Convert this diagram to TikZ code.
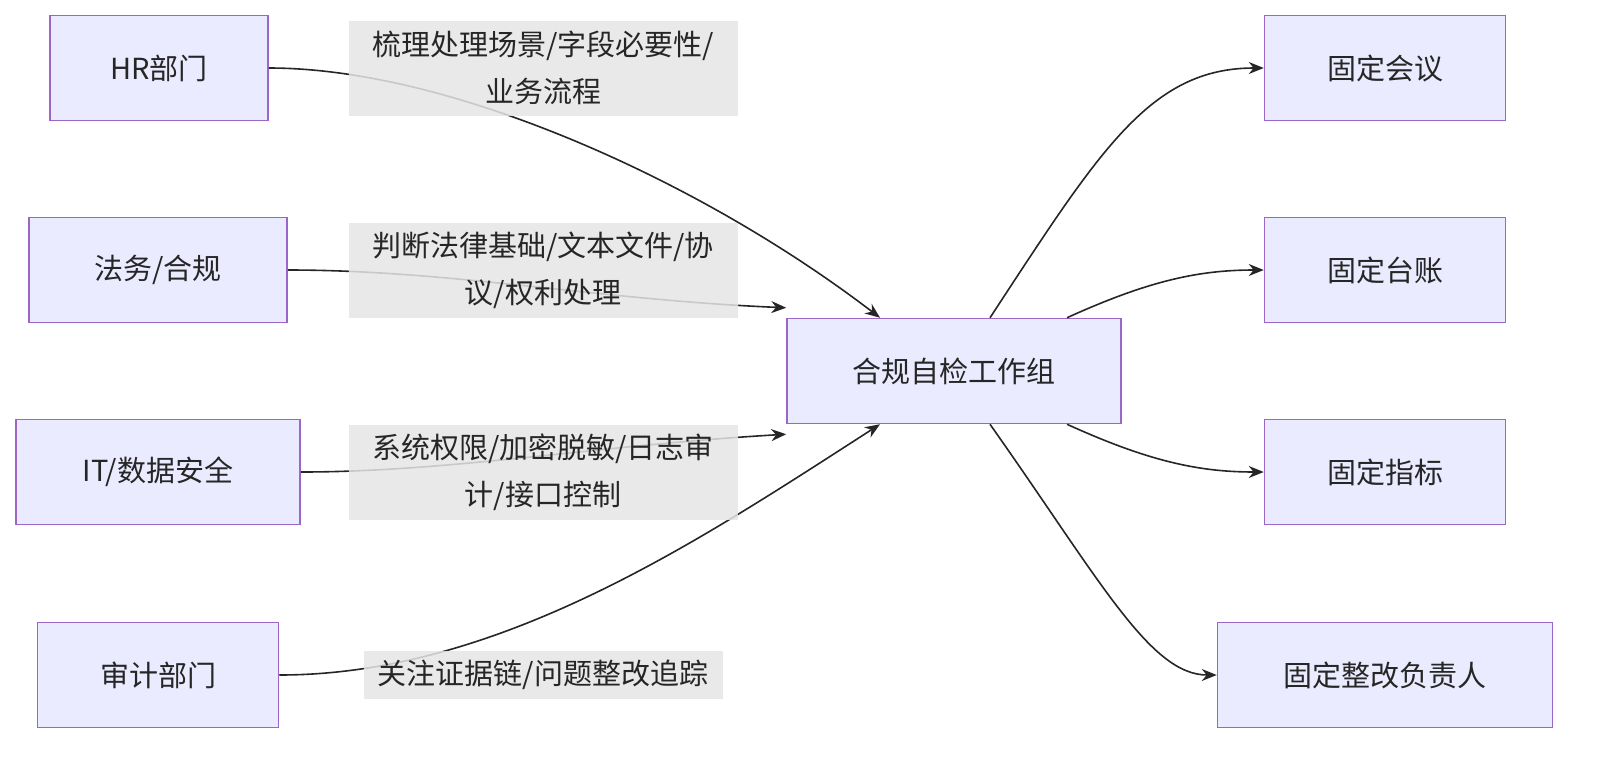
\documentclass[tikz,border=0pt]{standalone}
\usepackage{fontspec}
\setmainfont{Noto Sans CJK SC}
\usetikzlibrary{arrows.meta}
\begin{document}
\begin{tikzpicture}[x=1pt,y=-1pt,
 box/.style={draw=violet!70!blue!60, line width=1.5pt, fill=blue!8, minimum height=105pt, font=\fontsize{29}{36}\selectfont, text=black!85, inner sep=0pt},
 lbl/.style={fill=gray!20, fill opacity=0.85, text opacity=1, text=black!85, font=\fontsize{29}{47}\selectfont, align=center, inner sep=2pt},
 edge/.style={draw=black!85, line width=1.6pt, -{Stealth[length=15pt,width=12pt]}}]
\useasboundingbox (0,0) rectangle (1612,764);
\node[box,minimum width=218pt] (hr) at (159,68) {HR部门};
\node[box,minimum width=258pt] (lw) at (158,270) {法务/合规};
\node[box,minimum width=284pt] (it) at (158,472) {IT/数据安全};
\node[box,minimum width=241pt] (au) at (158,675) {审计部门};
\node[box,minimum width=334pt] (c) at (954,371) {合规自检工作组};
\node[box,minimum width=241pt] (m) at (1385,68) {固定会议};
\node[box,minimum width=241pt] (t) at (1385,270) {固定台账};
\node[box,minimum width=241pt] (z) at (1385,472) {固定指标};
\node[box,minimum width=335pt] (r) at (1385,675) {固定整改负责人};
\draw[edge] (hr.east) .. controls (450,68) and (700,180) .. ([xshift=-74]c.north);
\draw[edge] (lw.east) .. controls (450,270) and (600,300) .. ([yshift=10]c.north west);
\draw[edge] (it.east) .. controls (450,472) and (600,445) .. ([yshift=-10]c.south west);
\draw[edge] (au.east) .. controls (500,675) and (700,540) .. ([xshift=-74]c.south);
\draw[edge] ([xshift=36]c.north) .. controls (1100,150) and (1150,68) .. (m.west);
\draw[edge] ([xshift=113]c.north) .. controls (1150,280) and (1200,270) .. (t.west);
\draw[edge] ([xshift=113]c.south) .. controls (1150,462) and (1200,472) .. (z.west);
\draw[edge] ([xshift=36]c.south) .. controls (1100,580) and (1150,675) .. (r.west);
\node[lbl,minimum width=389pt,minimum height=95pt] (l1) at (543,68) {梳理处理场景/字段必要性/\\业务流程};
\node[lbl,minimum width=389pt,minimum height=95pt] (l2) at (543,270) {判断法律基础/文本文件/协\\议/权利处理};
\node[lbl,minimum width=389pt,minimum height=95pt] (l3) at (543,472) {系统权限/加密脱敏/日志审\\计/接口控制};
\node[lbl,minimum width=359pt,minimum height=48pt] (l4) at (543,675) {关注证据链/问题整改追踪};
\end{tikzpicture}
\end{document}
